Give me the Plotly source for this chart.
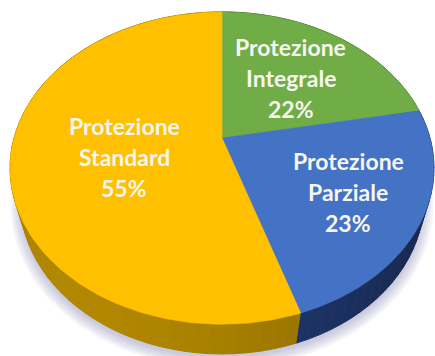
import numpy as np
import plotly.graph_objects as go

# --- data -------------------------------------------------------------
CATEGORIES = ["Protezione Integrale", "Protezione Parziale", "Protezione Standard"]
SHARES = [22, 23, 55]

# --- style ------------------------------------------------------------
TOP_COLORS = ["#70AD47", "#4472C4", "#FFC000"]
SIDE_COLORS = [(74, 122, 44), (32, 56, 110), (168, 128, 0)]
LABEL_RADIUS = [0.56, 0.66, 0.47]
LABEL_DROP = [0, 0, 8]          # extra downward nudge in pixels
TEXT_COLOR = "#F6F6EE"

W, H = 435, 356

# perspective camera for a disc lying flat, seen from above-front
ELEV = np.radians(46.3)
DIST = 3.59
SCALE = 208.0
CX, CY = 222.0, 138.0
THICK = 0.24


def project(X, Y, Z):
    """World (X right, Y up, Z toward viewer) -> pixel coordinates."""
    X, Y, Z = np.asarray(X, float), np.asarray(Y, float), np.asarray(Z, float)
    yc = Y * np.cos(ELEV) - Z * np.sin(ELEV)
    zc = Y * np.sin(ELEV) + Z * np.cos(ELEV)
    k = DIST / (DIST - zc)
    return CX + SCALE * X * k, CY - SCALE * yc * k


def rim(theta, r=1.0, y=0.0):
    # theta measured clockwise from the back of the disc
    theta = np.asarray(theta, float)
    return project(r * np.sin(theta), np.full_like(theta, y), -r * np.cos(theta))


fig = go.Figure()

# soft shadow under the disc
for grow in np.linspace(1.045, 1.0, 6):
    t = np.linspace(0, 2 * np.pi, 241)
    sx, sy = rim(t, r=grow, y=-THICK)
    fig.add_trace(go.Scatter(
        x=sx, y=sy + 4, mode="lines", fill="toself",
        fillcolor="rgba(110,120,165,0.07)", line=dict(width=0),
        hoverinfo="skip"))

total = float(sum(SHARES))
bounds = np.concatenate([[0.0], np.cumsum(SHARES)]) / total * 2 * np.pi

# light coming from the upper-left front
light = np.array([-0.6, 0.0, 0.8])
light /= np.linalg.norm(light)

# outer side walls, drawn as thin shaded strips
for i in range(len(SHARES)):
    a, b = bounds[i], bounds[i + 1]
    n = max(4, int(np.degrees(b - a) / 3))
    edges = np.linspace(a, b, n + 1)
    for t0, t1 in zip(edges[:-1], edges[1:]):
        tm = 0.5 * (t0 + t1)
        normal = np.array([np.sin(tm), 0.0, -np.cos(tm)])
        shade = 0.74 + 0.32 * max(0.0, float(normal @ light))
        r_, g_, b_ = (min(255, int(c * shade)) for c in SIDE_COLORS[i])
        col = f"rgb({r_},{g_},{b_})"
        tt = np.linspace(t0, t1, 3)
        tx, ty = rim(tt, y=0.0)
        bx, by = rim(tt[::-1], y=-THICK)
        fig.add_trace(go.Scatter(
            x=np.concatenate([tx, bx]), y=np.concatenate([ty, by]),
            mode="lines", fill="toself", fillcolor=col,
            line=dict(width=1, color=col), hoverinfo="skip"))

# top faces of the slices
cx0, cy0 = project(0.0, 0.0, 0.0)
for i in range(len(SHARES)):
    a, b = bounds[i], bounds[i + 1]
    t = np.linspace(a, b, max(8, int(np.degrees(b - a))))
    ax_, ay_ = rim(t)
    xs = np.concatenate([[cx0], ax_, [cx0]])
    ys = np.concatenate([[cy0], ay_, [cy0]])
    fig.add_trace(go.Scatter(
        x=xs, y=ys, mode="lines", fill="toself", fillcolor=TOP_COLORS[i],
        line=dict(width=0.6, color=TOP_COLORS[i]), hoverinfo="skip"))

# labels: category name on two lines plus the share
annotations = []
LINE_GAP = 31
for i, (cat, share) in enumerate(zip(CATEGORIES, SHARES)):
    mid = 0.5 * (bounds[i] + bounds[i + 1])
    lx, ly = rim([mid], r=LABEL_RADIUS[i])
    lines = cat.split() + [f"{share}%"]
    for j, txt in enumerate(lines):
        annotations.append(dict(
            x=float(lx[0]), y=float(ly[0]) + LABEL_DROP[i], text=f"<b>{txt}</b>",
            showarrow=False, xanchor="center", yanchor="middle",
            yshift=(1 - j) * LINE_GAP,
            font=dict(family="Lato", size=23, color=TEXT_COLOR)))

fig.update_layout(
    width=W, height=H,
    margin=dict(l=0, r=0, t=0, b=0),
    paper_bgcolor="white", plot_bgcolor="white",
    showlegend=False,
    annotations=annotations,
    xaxis=dict(range=[0, W], visible=False, fixedrange=True),
    yaxis=dict(range=[H, 0], visible=False, fixedrange=True),
)

fig.write_html("out.html")
